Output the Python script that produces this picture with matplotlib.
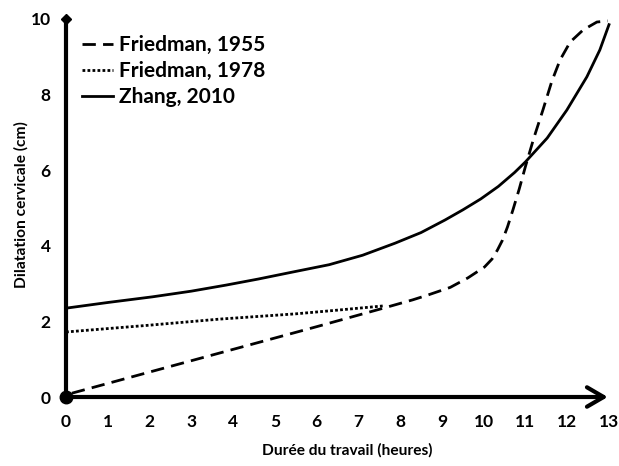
import numpy as np
import matplotlib
matplotlib.use("Agg")
import matplotlib.pyplot as plt

plt.rcParams["font.family"] = ["Lato", "DejaVu Sans"]
plt.rcParams["font.weight"] = "bold"

# ==========================================================
# Data
# ==========================================================

friedman_1955_x = [0.14, 2.0, 4.0, 6.0, 7.5, 8.3, 8.67, 9.2, 9.62, 10.02, 10.2,
                   10.33, 10.45, 10.57, 10.7, 10.85, 11.0, 11.2, 11.42, 11.63,
                   11.83, 12.07, 12.38, 12.71, 12.97]
friedman_1955_y = [0.1, 0.66, 1.26, 1.86, 2.32, 2.57, 2.7, 2.9, 3.15, 3.44, 3.65,
                   3.89, 4.15, 4.5, 4.95, 5.5, 6.1, 6.85, 7.6, 8.35,
                   8.92, 9.39, 9.71, 9.92, 9.95]

friedman_1978_x = [0.0, 2.0, 3.67, 5.5, 6.52, 7.6]
friedman_1978_y = [1.72, 1.9, 2.06, 2.2, 2.3, 2.41]

zhang_x = [0.0, 1.0, 2.07, 3.0, 3.83, 4.6, 5.4, 6.3, 7.1, 7.88, 8.5, 9.07,
           9.5, 9.93, 10.35, 10.74, 11.0, 11.52, 11.99, 12.47, 12.78, 13.0]
zhang_y = [2.35, 2.5, 2.65, 2.8, 2.96, 3.12, 3.3, 3.5, 3.75, 4.07, 4.35, 4.68,
           4.95, 5.24, 5.57, 5.94, 6.22, 6.85, 7.59, 8.47, 9.18, 9.85]

x_ticks = list(range(0, 14))
y_ticks = [0, 2, 4, 6, 8, 10]

# ==========================================================
# Figure
# ==========================================================

fig = plt.figure(figsize=(6.19, 4.66), dpi=100)
ax = fig.add_axes([66 / 619, 69 / 466, 543 / 619, 378 / 466])

ax.set_xlim(0, 13)
ax.set_ylim(0, 10)

for s in ax.spines.values():
    s.set_visible(False)

ax.plot(friedman_1955_x, friedman_1955_y, color="black", lw=2.0,
        linestyle=(0, (4.8, 2.6)), clip_on=False, label="Friedman, 1955")
ax.plot(friedman_1978_x, friedman_1978_y, color="black", lw=2.0,
        linestyle=(0, (1, 0.8)), clip_on=False, label="Friedman, 1978")
ax.plot(zhang_x, zhang_y, color="black", lw=2.0, clip_on=False,
        label="Zhang, 2010")

# axes drawn by hand
ax.plot([0, 0], [0, 10], color="black", lw=3, clip_on=False, zorder=5)
ax.plot([0], [10], marker="D", color="black", ms=5, clip_on=False, zorder=6)
ax.plot([0], [0], marker="o", color="black", ms=9, clip_on=False, zorder=6)
ax.annotate("", xy=(12.97, 0), xytext=(0, 0),
            arrowprops=dict(arrowstyle="->,head_length=0.6,head_width=0.35",
                            mutation_scale=20, color="black", lw=3,
                            shrinkA=0, shrinkB=0),
            annotation_clip=False, zorder=5)

ax.set_xticks(x_ticks)
ax.set_yticks(y_ticks)
ax.tick_params(length=0, labelsize=12.5)
ax.tick_params(axis="x", pad=12)
ax.tick_params(axis="y", pad=11)

ax.set_xlabel("Durée du travail (heures)", fontsize=11.2, fontweight="bold")
ax.set_ylabel("Dilatation cervicale (cm)", fontsize=11.2, fontweight="bold")
ax.xaxis.set_label_coords((347 - 66) / 543, (397 - 443) / 378)
ax.yaxis.set_label_coords((29 - 66) / 543, (397 - 205) / 378)

ax.legend(loc="upper left", bbox_to_anchor=(0.015, 0.98), frameon=False,
          fontsize=15, handlelength=1.45, handletextpad=0.3,
          labelspacing=0.3, borderaxespad=0)

plt.savefig("out.png", dpi=100)
plt.close()
